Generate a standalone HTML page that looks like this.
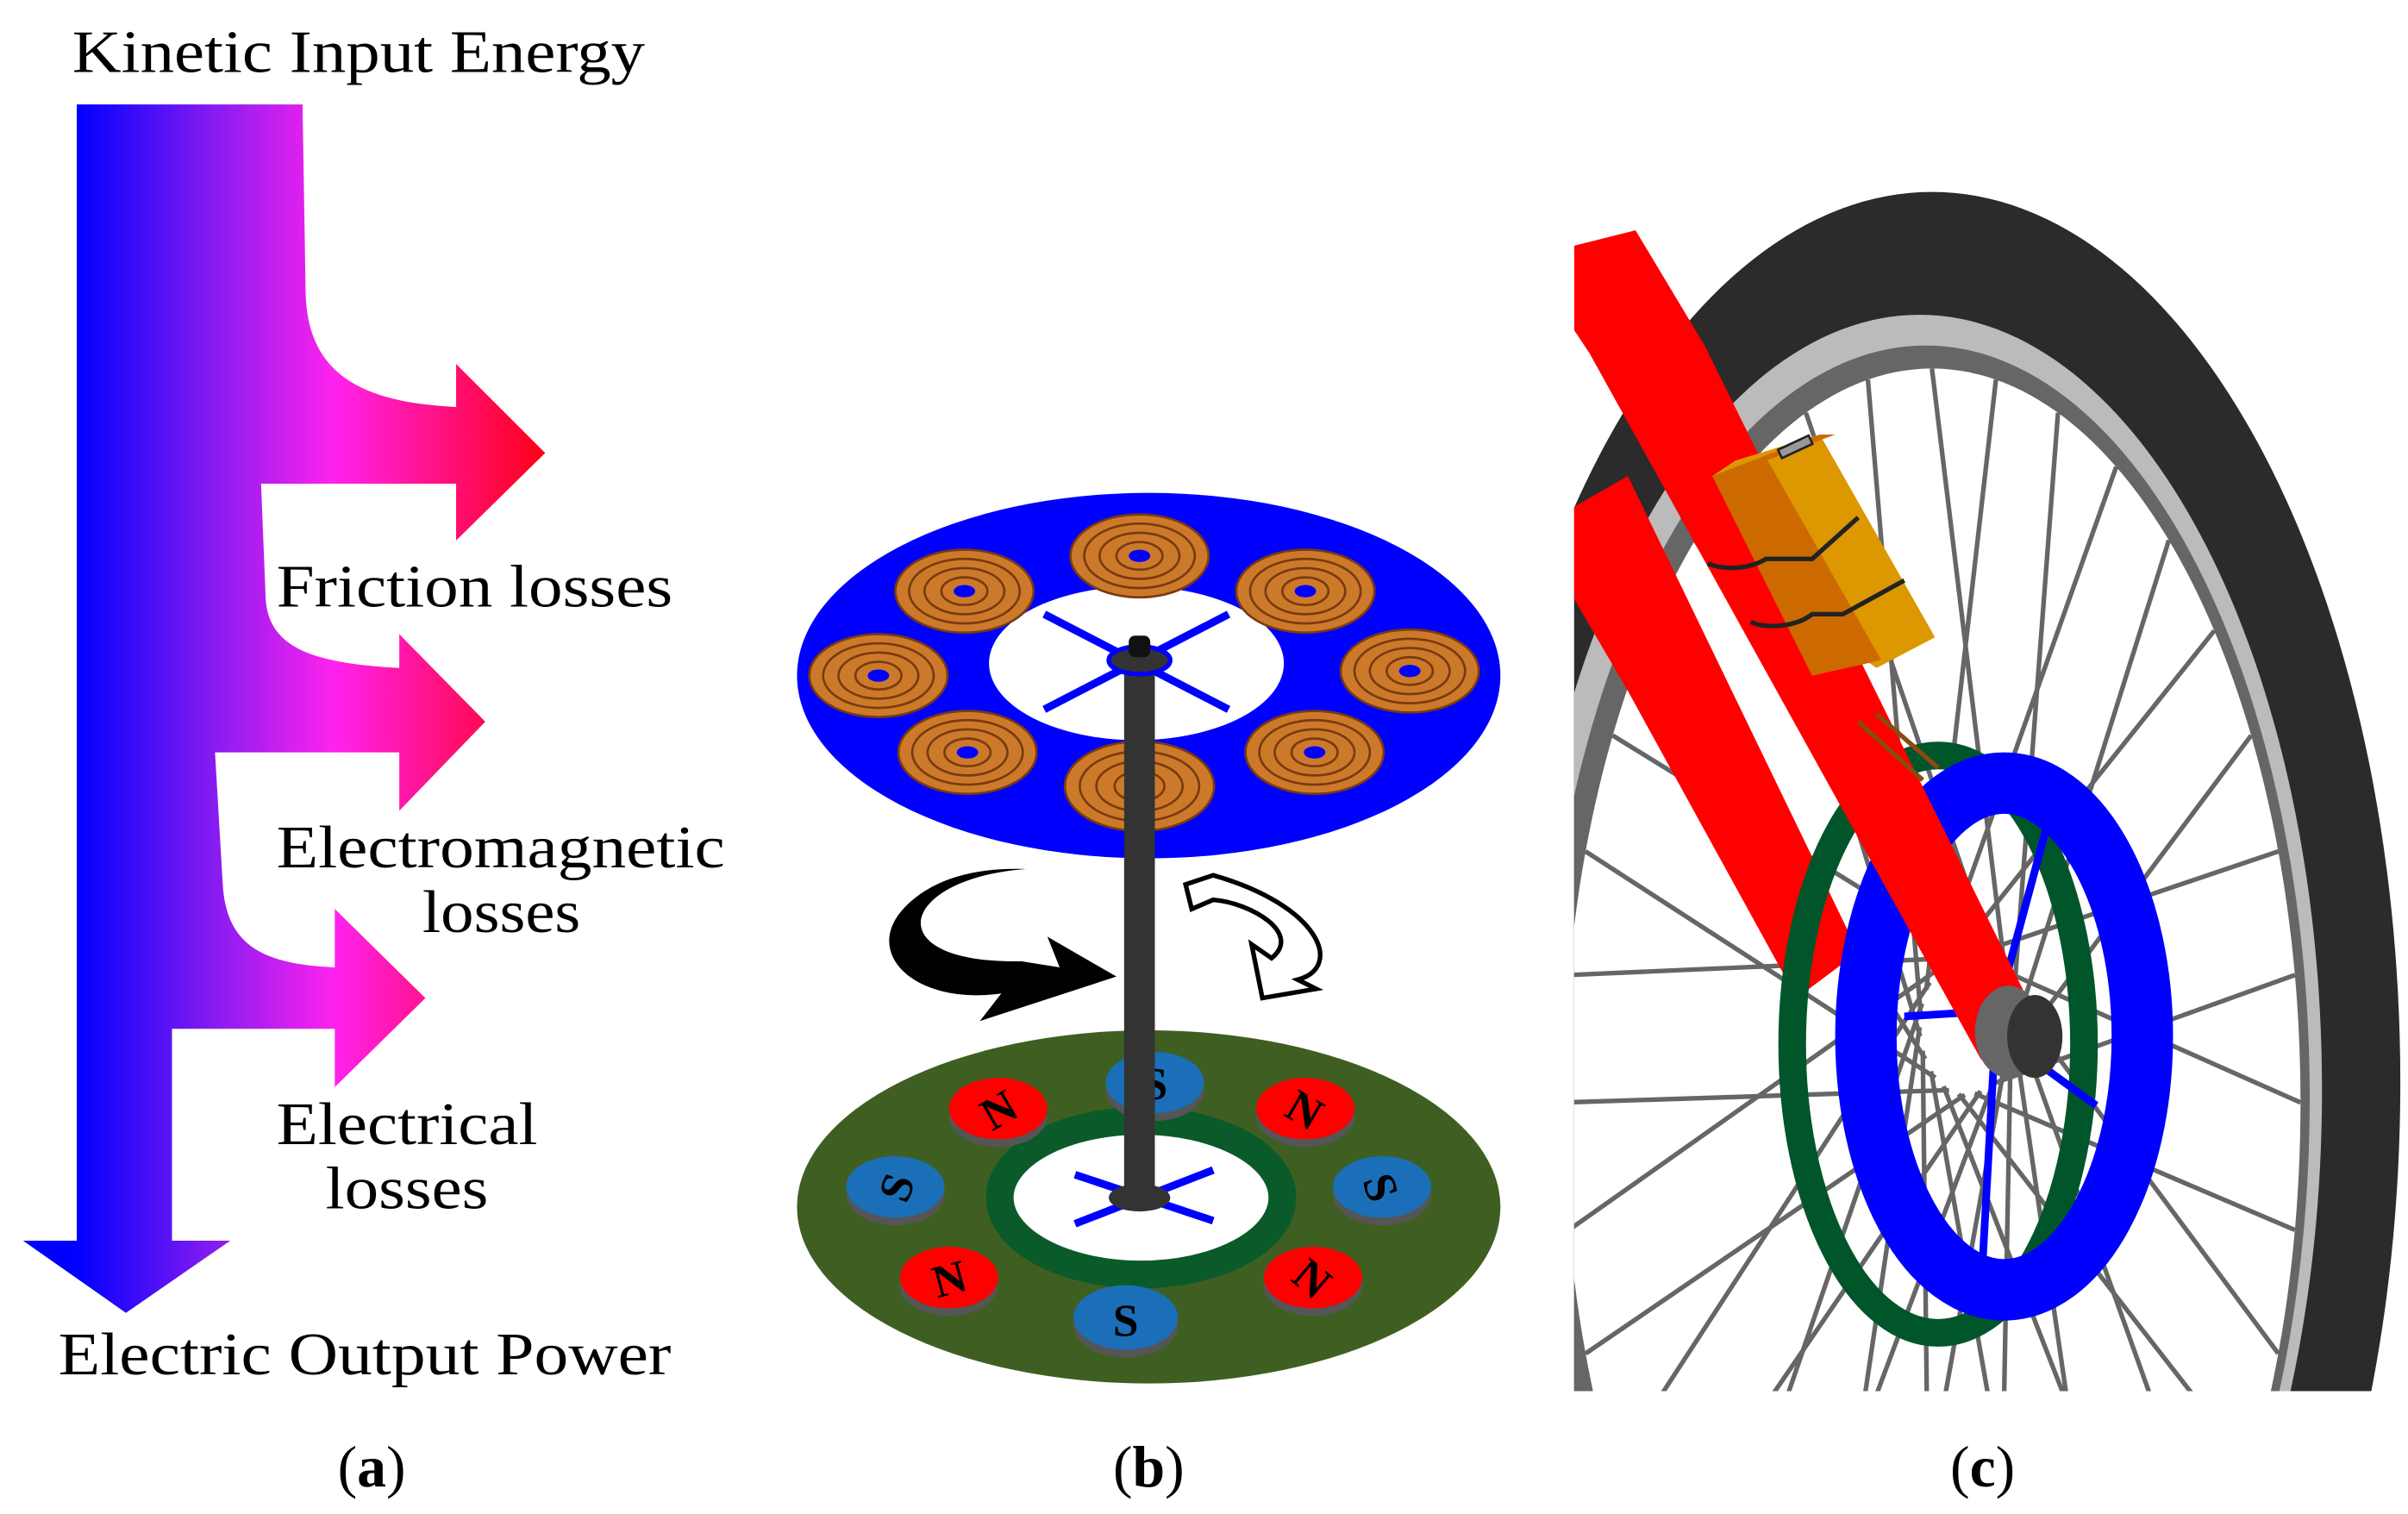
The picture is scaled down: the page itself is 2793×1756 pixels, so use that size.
<!DOCTYPE html>
<html><head><meta charset="utf-8"><style>
html,body{margin:0;padding:0;background:#fff;width:2793px;height:1756px;overflow:hidden}
svg{display:block;position:absolute;left:0;top:0}
text{font-family:"Liberation Serif",serif;fill:#000}
</style></head><body>
<svg id="s" width="2793" height="1756" viewBox="0 0 1568 986" preserveAspectRatio="none" xmlns="http://www.w3.org/2000/svg">
<defs>
<linearGradient id="g" gradientUnits="userSpaceOnUse" x1="50" y1="0" x2="355" y2="0">
<stop offset="0" stop-color="#0000ff"/><stop offset="0.3" stop-color="#8a1cf0"/><stop offset="0.55" stop-color="#ff22ee"/><stop offset="1" stop-color="#ff0015"/>
</linearGradient>
<clipPath id="cc"><rect x="1025" y="100" width="543" height="806"/></clipPath>
</defs>
<path fill="url(#g)" d="M50,68 L197,68 L199,190 C200,240 230,262 297,265 L297,237 L355,295 L297,352 L297,315 L170,315 L173,390 C175,420 200,432 260,435 L260,413 L316,470 L260,528 L260,490 L140,490 L145,575 C147,615 170,628 218,630 L218,592 L277,650 L218,708 L218,670 L112,670 L112,808 L150,808 L82,855 L15,808 L50,808 Z"/>
<g font-size="39">
<text x="47" y="47" textLength="373" lengthAdjust="spacingAndGlyphs">Kinetic Input Energy</text>
<text x="180" y="395" textLength="258" lengthAdjust="spacingAndGlyphs">Friction losses</text>
<text x="180" y="565" textLength="292" lengthAdjust="spacingAndGlyphs">Electromagnetic</text>
<text x="275" y="607" textLength="103" lengthAdjust="spacingAndGlyphs">losses</text>
<text x="180" y="745" textLength="170" lengthAdjust="spacingAndGlyphs">Electrical</text>
<text x="212" y="787" textLength="106" lengthAdjust="spacingAndGlyphs">losses</text>
<text x="38" y="895" textLength="399" lengthAdjust="spacingAndGlyphs">Electric Output Power</text>
</g>
<text x="242" y="968" font-size="38" text-anchor="middle">(<tspan font-weight="bold">a</tspan>)</text>
<text x="748" y="968" font-size="38" text-anchor="middle">(<tspan font-weight="bold">b</tspan>)</text>
<text x="1291" y="968" font-size="38" text-anchor="middle">(<tspan font-weight="bold">c</tspan>)</text>
<ellipse cx="748" cy="786" rx="229" ry="115" fill="#3f5f22"/>
<ellipse cx="743" cy="780" rx="92" ry="50" fill="#fff" stroke="#0b5a2a" stroke-width="18"/>
<g stroke="#0000ff" stroke-width="5"><line x1="700" y1="765" x2="790" y2="795"/><line x1="700" y1="797" x2="790" y2="762"/></g>
<g font-weight="bold" font-size="30" text-anchor="middle">
<ellipse cx="752" cy="710" rx="32" ry="20" fill="#555"/><ellipse cx="752" cy="705" rx="32" ry="20" fill="#1a6fb8"/><text x="752" y="716">S</text>
<ellipse cx="650" cy="727" rx="32" ry="20" fill="#555"/><ellipse cx="650" cy="722" rx="32" ry="20" fill="#f00"/><text x="650" y="733" transform="rotate(-30 650 722)">N</text>
<ellipse cx="850" cy="727" rx="32" ry="20" fill="#555"/><ellipse cx="850" cy="722" rx="32" ry="20" fill="#f00"/><text x="850" y="733" transform="rotate(30 850 722)">N</text>
<ellipse cx="583" cy="778" rx="32" ry="20" fill="#555"/><ellipse cx="583" cy="773" rx="32" ry="20" fill="#1a6fb8"/><text x="583" y="784" transform="rotate(-70 583 773)">S</text>
<ellipse cx="900" cy="778" rx="32" ry="20" fill="#555"/><ellipse cx="900" cy="773" rx="32" ry="20" fill="#1a6fb8"/><text x="900" y="784" transform="rotate(70 900 773)">S</text>
<ellipse cx="618" cy="837" rx="32" ry="20" fill="#555"/><ellipse cx="618" cy="832" rx="32" ry="20" fill="#f00"/><text x="618" y="843" transform="rotate(-15 618 832)">N</text>
<ellipse cx="855" cy="837" rx="32" ry="20" fill="#555"/><ellipse cx="855" cy="832" rx="32" ry="20" fill="#f00"/><text x="855" y="843" transform="rotate(40 855 832)">N</text>
<ellipse cx="733" cy="863" rx="34" ry="21" fill="#555"/><ellipse cx="733" cy="858" rx="34" ry="21" fill="#1a6fb8"/><text x="733" y="870">S</text>
</g>
<ellipse cx="748" cy="440" rx="229" ry="119" fill="#0000ff"/>
<ellipse cx="740" cy="432" rx="96" ry="50" fill="#fff"/>
<g stroke="#0000ff" stroke-width="5"><line x1="680" y1="400" x2="800" y2="462"/><line x1="680" y1="462" x2="800" y2="400"/></g>
<g id="coils"></g>
<rect x="732" y="428" width="20" height="352" fill="#333"/>
<ellipse cx="742" cy="780" rx="20" ry="9" fill="#333"/>
<ellipse cx="742" cy="430" rx="20" ry="9" fill="#333" stroke="#0000ff" stroke-width="3"/>
<rect x="735" y="414" width="14" height="14" rx="4" fill="#111"/>
<path d="M668,566 C585,572 570,628 665,626 L690,630 L682,610 L727,636 L638,665 L652,647 C595,655 560,620 590,590 C610,570 640,565 668,566 Z" fill="#000"/>
<path d="M772,576 L790,570 C860,590 875,630 845,638 L857,644 L822,650 L815,615 L828,624 C848,608 815,588 790,586 L776,592 Z" fill="#fff" stroke="#000" stroke-width="3"/>
<g clip-path="url(#cc)">
<ellipse cx="1258" cy="705" rx="305" ry="580" fill="#2b2b2b"/>
<ellipse cx="1250" cy="710" rx="262" ry="505" fill="#bbb"/>
<ellipse cx="1254" cy="715" rx="250" ry="490" fill="#666"/>
<ellipse cx="1258" cy="718" rx="240" ry="478" fill="#fff"/>
<g id="spokes" stroke="#666" stroke-width="3"></g>
<polygon points="1025,330 1060,310 1210,620 1170,650 1060,450 1025,390" fill="#f00"/>
<ellipse cx="1262" cy="680" rx="95" ry="188" fill="none" stroke="#00552a" stroke-width="18"/>
<ellipse cx="1305" cy="675" rx="90" ry="165" fill="none" stroke="#0000ff" stroke-width="40"/>
<g stroke="#0000ff" stroke-width="5"><line x1="1240" y1="662" x2="1320" y2="657"/><line x1="1335" y1="530" x2="1300" y2="660"/><line x1="1300" y1="660" x2="1290" y2="840"/><line x1="1310" y1="680" x2="1365" y2="720"/></g>
<polygon points="1025,160 1065,150 1110,225 1320,650 1290,690 1035,230 1025,215" fill="#f00"/>
<path d="M1222,465 L1262,500 M1210,470 L1252,508" stroke="#8a4a10" stroke-width="3" fill="none"/>
<polygon points="1115,310 1130,300 1185,283 1260,415 1222,435 1170,400" fill="#dd9700"/>
<polygon points="1115,310 1150,298 1225,430 1180,440" fill="#cc6a00"/>
<polygon points="1115,310 1185,283 1195,283 1150,300" fill="#cc6a00"/>
<path d="M1112,367 C1125,372 1140,370 1150,364 L1180,364 L1210,337 M1140,405 C1150,410 1170,408 1180,400 L1200,400 L1240,378" stroke="#222" stroke-width="3" fill="none"/>
<rect x="1158" y="288" width="22" height="6" fill="#999" stroke="#222" stroke-width="1.5" transform="rotate(-25 1169 291)"/>
<ellipse cx="1308" cy="672" rx="22" ry="30" fill="#666"/>
<ellipse cx="1325" cy="675" rx="18" ry="27" fill="#333"/>
</g>
</svg>
<script>
var ns="http://www.w3.org/2000/svg";
var co=document.getElementById("coils");
[[628,385],[742,362],[850,385],[918,437],[856,490],[742,512],[630,490],[572,440]].forEach(function(p){
 var s=(p[1]>500)?1.08:1;
 [[45,27],[36,21],[26,15],[15,9]].forEach(function(r){
  var e=document.createElementNS(ns,"ellipse");e.setAttribute("cx",p[0]);e.setAttribute("cy",p[1]);
  e.setAttribute("rx",r[0]*s);e.setAttribute("ry",r[1]*s);e.setAttribute("fill","#cc7a2a");e.setAttribute("stroke","#7a3a10");e.setAttribute("stroke-width",1.5);co.appendChild(e);});
 var e=document.createElementNS(ns,"ellipse");e.setAttribute("cx",p[0]);e.setAttribute("cy",p[1]);e.setAttribute("rx",7);e.setAttribute("ry",4);e.setAttribute("fill","#0000ff");co.appendChild(e);
});
var sp=document.getElementById("spokes");
for(var i=0;i<36;i++){var t=i*10*Math.PI/180;var d=(i%2?1:-1)*1.2;
 var x2=1258+240*Math.cos(t),y2=718+478*Math.sin(t);
 var x1=1280+30*Math.cos(t+d),y1=668+45*Math.sin(t+d);
 var l=document.createElementNS(ns,"line");l.setAttribute("x1",x1);l.setAttribute("y1",y1);l.setAttribute("x2",x2);l.setAttribute("y2",y2);sp.appendChild(l);}
</script>
</body></html>
